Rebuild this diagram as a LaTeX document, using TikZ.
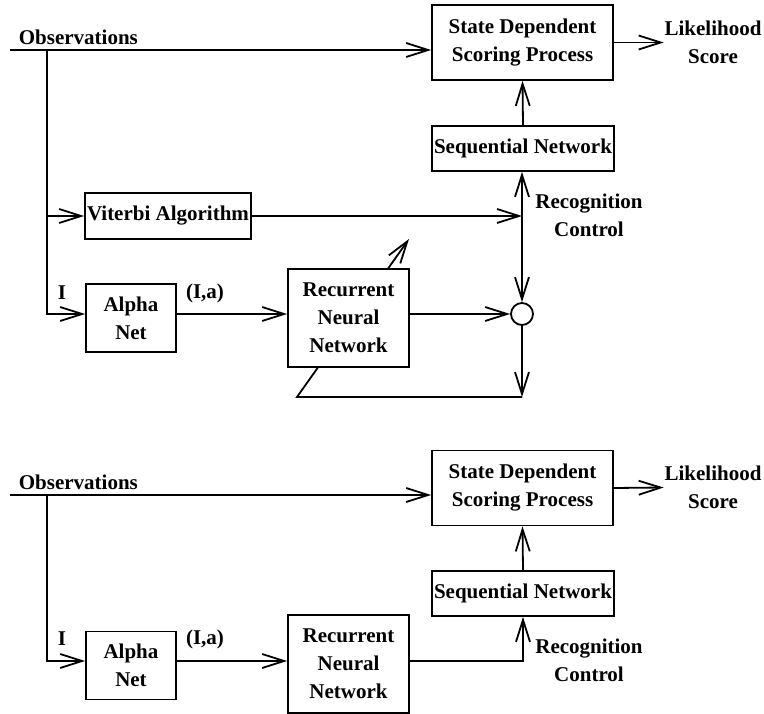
\documentclass[tikz,border=0pt]{standalone}
\usepackage{fontspec}
\setmainfont{Liberation Serif}
\usetikzlibrary{calc}
\usetikzlibrary{positioning}
\usetikzlibrary{arrows.meta}
\usetikzlibrary{backgrounds}
\tikzset{every picture/.style={line width=1.8pt, >={Straight Barb[length=22pt,width=14pt]}}}
\tikzset{lbl/.style={inner sep=0pt, align=center, font=\fontsize{21}{28}\selectfont\bfseries}}
\tikzset{blk/.style={lbl, draw, fill=white}}

\begin{document}
\begin{tikzpicture}[x=1pt,y=-1pt]
                    \useasboundingbox (0,0) rectangle (764,714);
                    \node[lbl,anchor=west] (obs) at (18,37) {Observations};
                    \coordinate (o1) at (10,50);
                    \coordinate (s1) at (47,50);
                    \node[blk,minimum width=181,minimum height=75] (sdsp) at (522.5,42.5) {State Dependent\\Scoring Process};
                    \node[lbl] (lik) at (713,42.5) {Likelihood\\Score};
                    \node[blk,minimum width=182,minimum height=45] (seq) at (523,148.5) {Sequential Network};
                    \node[blk,minimum width=166,minimum height=46] (vit) at (168,216) {Viterbi Algorithm};
                    \coordinate (rc) at (522,216);
                    \node[lbl] (rec) at (589,215.5) {Recognition\\Control};
                    \node[blk,minimum width=90,minimum height=68] (alpha) at (131,318) {Alpha\\Net};
                    \node[blk,minimum width=121,minimum height=98] (rnn) at (348.5,318) {Recurrent\\Neural\\Network};
                    \node[draw,circle,minimum size=22,inner sep=0pt] (sum) at (522,314) {};
                    \node[lbl] (i) at (62,293) {I};
                    \node[lbl] (ia) at (205,293) {(I,a)};
                    \coordinate (fb) at (522,397);
                    \coordinate (fbl) at (297,397);
                    \coordinate (adapt) at (409,239);
                    \draw[->] (o1) -- (sdsp.west |- o1);
                    \draw[->] (sdsp.east) -- (lik.west);
                    \draw[->] (s1) |- (vit.west);
                    \draw[->] (s1) |- (alpha.west |- sum);
                    \draw[->] (seq.north) -- (sdsp.south);
                    \draw[->] (vit.east) -- (rc);
                    \draw[->] (rc) -- (rc |- seq.south);
                    \draw[->] (rc) -- (sum.north);
                    \draw[->] (alpha.east |- sum) -- (rnn.west |- sum);
                    \draw[->] (rnn.east |- sum) -- (sum.west);
                    \draw[->] (sum.south) -- (fb);
                    \begin{scope}[on background layer]
                    \draw[->,line width=1.8pt] (fb) -- (fbl) -- (adapt);
                    \end{scope}

                    \node[lbl,anchor=west] (obs2) at (18,482) {Observations};
                    \coordinate (o2) at (10,495);
                    \coordinate (s2) at (47,495);
                    \node[blk,minimum width=181,minimum height=75] (sdsp2) at (522.5,488) {State Dependent\\Scoring Process};
                    \node[lbl] (lik2) at (713,487.5) {Likelihood\\Score};
                    \node[blk,minimum width=182,minimum height=45] (seq2) at (523,593.5) {Sequential Network};
                    \node[lbl] (rec2) at (589,660) {Recognition\\Control};
                    \coordinate (r2) at (0,661);
                    \node[blk,minimum width=90,minimum height=68] (alpha2) at (131,665.5) {Alpha\\Net};
                    \node[blk,minimum width=121,minimum height=98] (rnn2) at (348.5,664) {Recurrent\\Neural\\Network};
                    \node[lbl] (i2) at (62,639) {I};
                    \node[lbl] (ia2) at (205,639) {(I,a)};
                    \draw[->] (o2) -- (sdsp2.west |- o2);
                    \draw[->] (sdsp2.east) -- (lik2.west);
                    \draw[->] (s2) |- (alpha2.west |- r2);
                    \draw[->] (seq2.north) -- (sdsp2.south);
                    \draw[->] (alpha2.east |- r2) -- (rnn2.west |- r2);
                    \draw[->] (rnn2.east |- r2) -| (seq2.south);
                \end{tikzpicture}
\end{document}
